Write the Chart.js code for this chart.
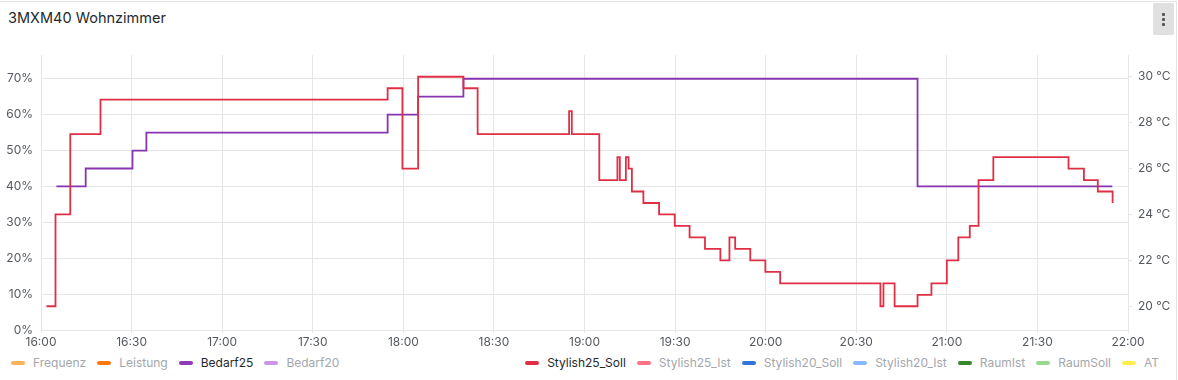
<!DOCTYPE html>
<html>
<head>
<meta charset="utf-8">
<script src="https://cdn.jsdelivr.net/npm/chart.js@4.4.0/dist/chart.umd.min.js"></script>
<style>
  html, body { margin: 0; padding: 0; background: #fff; }
  body { width: 1178px; height: 380px; overflow: hidden; position: relative; font-family: Inter, "Noto Sans", sans-serif; }
  .panel { position: absolute; left: -1px; top: 1px; width: 1176px; height: 390px; border: 1px solid #e4e4e4; }
  .title { position: absolute; left: 8px; top: 9px; font-size: 14.5px; font-weight: 400; color: #24292e; }
  .menu { position: absolute; left: 1153px; top: 3px; width: 21px; height: 32px; background: #e0e0e0; border-radius: 2px; }
  .menu i { position: absolute; left: 9px; width: 3px; height: 3px; background: #555; border-radius: 1px; }
  .chartbox { position: absolute; left: 0; top: 40px; width: 1178px; height: 312px; }
  .chartbox canvas { display: block; }
  .legend { position: absolute; top: 355px; display: flex; font-size: 12px; line-height: 16px; }
  .legend .item { display: flex; align-items: center; margin-right: 11px; }
  .legend .item:last-child { margin-right: 0; }
  .legend .sw { width: 14px; height: 4px; border-radius: 2px; margin-right: 8px; }
</style>
</head>
<body>
<div class="panel"></div>
<div class="title">3MXM40 Wohnzimmer</div>
<div class="menu"><i style="top:10px"></i><i style="top:15px"></i><i style="top:20px"></i></div>
<div class="chartbox"><canvas id="chart" width="1178" height="312"></canvas></div>
<div class="legend" id="legendLeft" style="left:11px"></div>
<div class="legend" id="legendRight" style="right:19px"></div>

<script>
// Zeit in Minuten ab 16:00
const xTickMinutes = [0, 30, 60, 90, 120, 150, 180, 210, 240, 270, 300, 330, 360];
const xTickLabels = ['16:00', '16:30', '17:00', '17:30', '18:00', '18:30', '19:00', '19:30', '20:00', '20:30', '21:00', '21:30', '22:00'];
const leftTicks = [0, 10, 20, 30, 40, 50, 60, 70];
const rightTicks = [20, 22, 24, 26, 28, 30];

// Stylish25_Soll (°C, rechte Achse)
const sollTimes = [1.8, 4.8, 9.7, 19.7, 114.8, 119.7, 124.9, 139.9, 144.6, 174.9, 175.8, 184.9, 190.9, 191.7, 193.7, 194.6, 195.7, 199.5, 204.7, 209.9, 214.8, 219.9, 225, 228, 229.9, 234.9, 239.9, 244.8, 278, 279, 282.7, 290.3, 294.9, 300, 303.8, 307.6, 310.5, 315.4, 340.3, 345.4, 350, 354.9];
const sollValues = [20.0, 24.0, 27.5, 29.0, 29.5, 26.0, 30.0, 29.5, 27.5, 28.5, 27.5, 25.5, 26.5, 25.5, 26.5, 26.0, 25.0, 24.5, 24.0, 23.5, 23.0, 22.5, 22.0, 23.0, 22.5, 22.0, 21.5, 21.0, 20.0, 21.0, 20.0, 20.5, 21.0, 22.0, 23.0, 23.5, 25.5, 26.5, 26.0, 25.5, 25.0, 24.5];

// Bedarf25 (%, linke Achse)
const bedarfTimes = [5.1, 14.8, 30.3, 34.9, 114.8, 124.9, 139.9, 290.3, 354.8];
const bedarfValues = [40, 45, 50, 55, 60, 65, 70, 40, 40];

// Legende: links / rechts wie im Grafana-Panel
const legendLeftNames = ['Frequenz', 'Leistung', 'Bedarf25', 'Bedarf20'];
const legendLeftColors = ['#FFB357', '#FF780A', '#8F3BB8', '#CA95E5'];
const legendLeftShown = [false, false, true, false];
const legendRightNames = ['Stylish25_Soll', 'Stylish25_Ist', 'Stylish20_Soll', 'Stylish20_Ist', 'RaumIst', 'RaumSoll', 'AT'];
const legendRightColors = ['#E02F44', '#FF7383', '#3274D9', '#8AB8FF', '#37872D', '#96D98D', '#FFEE52'];
const legendRightShown = [true, false, false, false, false, false, false];

const gridColor = '#e6e6e6';
const tickColor = '#55595f';
const tickFont = { family: 'Inter', size: 12 };

function toPoints(times, values) {
    return times.map((t, i) => ({ x: t, y: values[i] }));
}

function buildLegend(id, names, colors, shown) {
    const box = document.getElementById(id);
    names.forEach((n, i) => {
        const item = document.createElement('div');
        item.className = 'item';
        item.innerHTML = '<span class="sw" style="background:' + colors[i] + '"></span>' +
            '<span style="color:' + (shown[i] ? '#24292e' : '#a3a7ac') + '">' + n + '</span>';
        box.appendChild(item);
    });
}
buildLegend('legendLeft', legendLeftNames, legendLeftColors, legendLeftShown);
buildLegend('legendRight', legendRightNames, legendRightColors, legendRightShown);

const ctx = document.getElementById('chart').getContext('2d');
new Chart(ctx, {
    type: 'line',
    data: {
        datasets: [{
            label: 'Stylish25_Soll',
            data: toPoints(sollTimes, sollValues),
            yAxisID: 'yR',
            borderColor: '#E02F44',
            borderWidth: 1.8,
            stepped: 'before',
            pointRadius: 0,
            fill: false
        }, {
            label: 'Bedarf25',
            data: toPoints(bedarfTimes, bedarfValues),
            yAxisID: 'yL',
            borderColor: '#8634B0',
            borderWidth: 1.8,
            stepped: 'before',
            pointRadius: 0,
            fill: false
        }]
    },
    options: {
        responsive: false,
        animation: false,
        // Achsenlabels geben oben noch ~7px dazu -> Plotbereich beginnt bei y≈52
        layout: { padding: { top: 5, left: 0, right: 0, bottom: 0 } },
        plugins: { legend: { display: false }, tooltip: { enabled: false } },
        scales: {
            x: {
                type: 'linear',
                min: 0,
                max: 360,
                afterBuildTicks: s => { s.ticks = xTickMinutes.map(v => ({ value: v })); },
                afterFit: s => { s.height = 22; },
                grid: { color: gridColor, tickLength: 3 },
                border: { display: false },
                ticks: {
                    color: tickColor, font: tickFont, padding: 2, maxRotation: 0, autoSkip: false,
                    callback: v => xTickLabels[xTickMinutes.indexOf(v)]
                }
            },
            yL: {
                position: 'left',
                min: 0,
                max: 76.56,
                afterBuildTicks: s => { s.ticks = leftTicks.map(v => ({ value: v })); },
                afterFit: s => { s.width = 41; },
                grid: { color: gridColor, drawTicks: false },
                border: { display: false },
                ticks: { color: tickColor, font: tickFont, padding: 8, callback: v => v + '%' }
            },
            yR: {
                position: 'right',
                min: 18.966,
                max: 30.94,
                afterBuildTicks: s => { s.ticks = rightTicks.map(v => ({ value: v })); },
                afterFit: s => { s.width = 50; },
                grid: { color: gridColor, drawOnChartArea: false, tickLength: 4 },
                border: { display: false },
                ticks: { color: tickColor, font: tickFont, padding: 6, callback: v => v + ' °C' }
            }
        }
    }
});
</script>
</body>
</html>
